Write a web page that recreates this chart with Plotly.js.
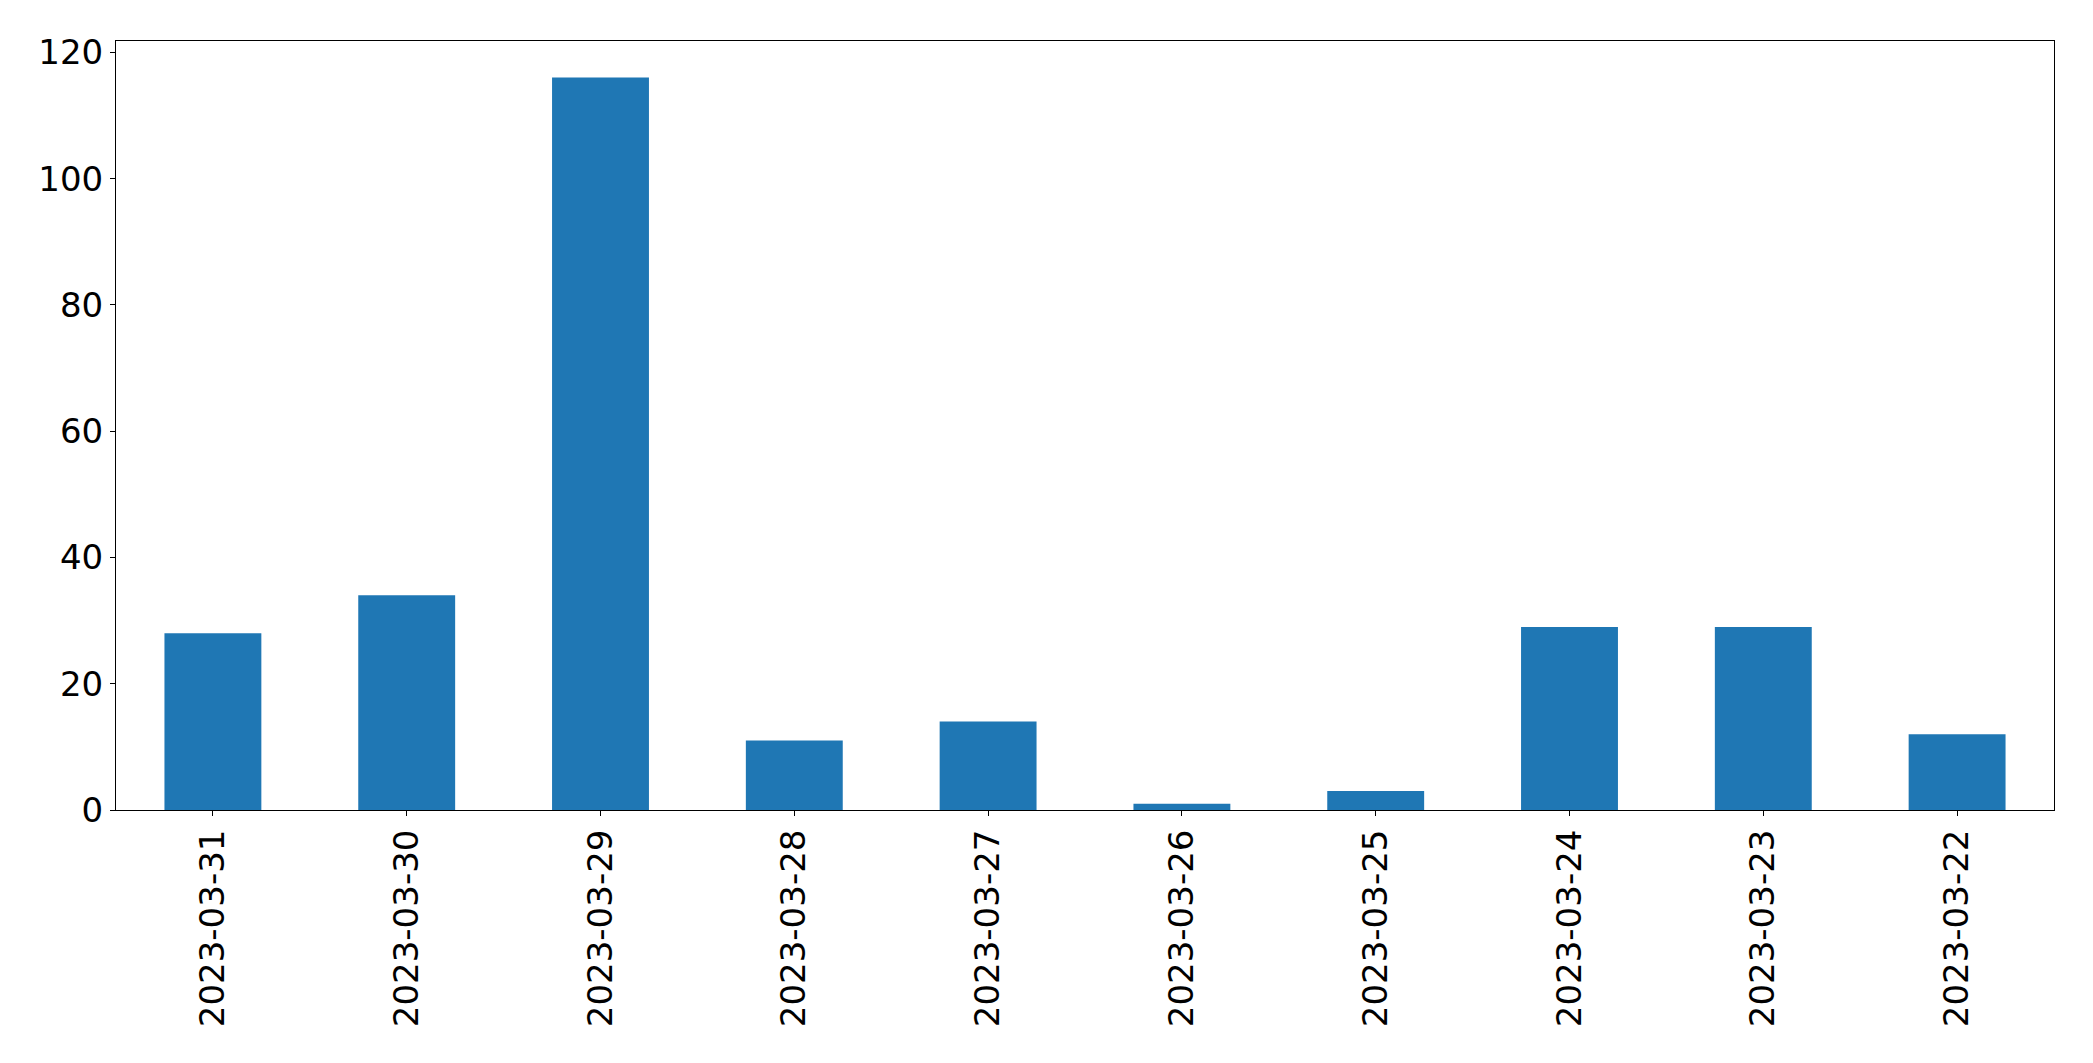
<!DOCTYPE html>
<html>
<head>
<meta charset="utf-8">
<script src="https://cdn.plot.ly/plotly-3.0.1.min.js"></script>
<style>
html, body { margin: 0; padding: 0; background: #ffffff; }
#chart { width: 2093px; height: 1063px; }
</style>
</head>
<body>
<div id="chart"></div>
<script>
const dates = ["2023-03-31", "2023-03-30", "2023-03-29", "2023-03-28", "2023-03-27",
               "2023-03-26", "2023-03-25", "2023-03-24", "2023-03-23", "2023-03-22"];
const counts = [28, 34, 116, 11, 14, 1, 3, 29, 29, 12];
const yTickVals = [0, 20, 40, 60, 80, 100, 120];

const trace = {
  type: "bar",
  x: dates,
  y: counts,
  width: 0.5,
  marker: { color: "#1f77b4", line: { width: 0 } },
  hoverinfo: "x+y"
};

const layout = {
  width: 2093,
  height: 1063,
  margin: { l: 116, r: 39, t: 41, b: 253 },
  paper_bgcolor: "#ffffff",
  plot_bgcolor: "#ffffff",
  showlegend: false,
  font: { family: "DejaVu Sans", size: 34, color: "#000000" },
  xaxis: {
    type: "category",
    range: [-0.5, 9.5],
    tickangle: -90,
    ticks: "outside",
    ticklen: 5,
    tickwidth: 1,
    tickcolor: "#000000",
    showgrid: false,
    zeroline: false,
    showline: true,
    linecolor: "#000000",
    linewidth: 1,
    mirror: true,
    tickfont: { family: "DejaVu Sans", size: 34, color: "#000000" }
  },
  yaxis: {
    range: [0, 121.8],
    tickvals: yTickVals,
    ticktext: yTickVals.map(String),
    ticks: "outside",
    ticklen: 5,
    tickwidth: 1,
    tickcolor: "#000000",
    showgrid: false,
    zeroline: false,
    showline: true,
    linecolor: "#000000",
    linewidth: 1,
    mirror: true,
    tickfont: { family: "DejaVu Sans", size: 34, color: "#000000" }
  }
};

Plotly.newPlot("chart", [trace], layout, { displayModeBar: false, staticPlot: true });
</script>
</body>
</html>
